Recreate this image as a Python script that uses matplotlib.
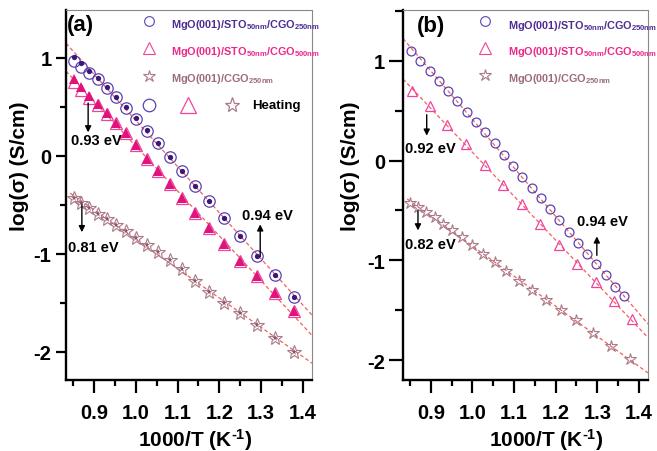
import numpy as np
import matplotlib
matplotlib.use('Agg')
import matplotlib.pyplot as plt
from matplotlib.ticker import MultipleLocator

plt.rcParams['font.family'] = ['Liberation Sans', 'DejaVu Sans']
plt.rcParams['font.weight'] = 'bold'
plt.rcParams['mathtext.fontset'] = 'custom'
plt.rcParams['mathtext.rm'] = 'Liberation Sans:bold'
plt.rcParams['mathtext.bf'] = 'Liberation Sans:bold'
plt.rcParams['mathtext.it'] = 'Liberation Sans:bold'
plt.rcParams['mathtext.default'] = 'rm'
plt.rcParams['axes.unicode_minus'] = False

# 1000/T (K^-1)
x_T = [0.851, 0.870, 0.889, 0.909, 0.930, 0.952, 0.976, 1.000, 1.026, 1.053,
       1.081, 1.111, 1.143, 1.176, 1.212, 1.250, 1.290, 1.333, 1.379]

# panel (a): log(sigma)
a_circ_cool = [1.01, 0.95, 0.87, 0.80, 0.70, 0.60, 0.50, 0.39, 0.26, 0.13,
               -0.01, -0.15, -0.31, -0.46, -0.64, -0.82, -1.02, -1.22, -1.44]
a_circ_heat = [0.97, 0.91, 0.85, 0.78, 0.69, 0.60, 0.49, 0.38, 0.25, 0.13,
               -0.01, -0.15, -0.31, -0.46, -0.64, -0.82, -1.02, -1.22, -1.44]
a_tri_cool = [0.78, 0.70, 0.61, 0.53, 0.44, 0.34, 0.23, 0.11, -0.03, -0.15,
              -0.29, -0.43, -0.58, -0.74, -0.90, -1.07, -1.23, -1.40, -1.58]
a_tri_heat = [0.75, 0.67, 0.59, 0.52, 0.43, 0.34, 0.23, 0.11, -0.03, -0.15,
              -0.29, -0.43, -0.58, -0.74, -0.90, -1.07, -1.23, -1.40, -1.58]
a_star = [-0.43, -0.48, -0.53, -0.59, -0.65, -0.71, -0.77, -0.84, -0.91, -0.98,
          -1.06, -1.16, -1.28, -1.39, -1.50, -1.61, -1.73, -1.86, -2.00]

# panel (b)
b_circ_x = [0.852, 0.874, 0.897, 0.919, 0.941, 0.964, 0.986, 1.008, 1.030, 1.053,
            1.075, 1.097, 1.120, 1.142, 1.164, 1.187, 1.209, 1.231, 1.253, 1.276,
            1.298, 1.320, 1.343, 1.365]
b_circ = [1.10, 1.00, 0.90, 0.80, 0.70, 0.60, 0.49, 0.39, 0.29, 0.18,
          0.06, -0.05, -0.16, -0.27, -0.38, -0.49, -0.60, -0.72, -0.83, -0.94,
          -1.04, -1.15, -1.27, -1.36]
b_tri_x = [0.854, 0.898, 0.938, 0.984, 1.030, 1.073, 1.119, 1.162, 1.208, 1.251,
           1.297, 1.340, 1.383]
b_tri = [0.70, 0.55, 0.36, 0.17, -0.04, -0.24, -0.44, -0.64, -0.85, -1.04,
         -1.22, -1.41, -1.59]
b_star = [-0.43, -0.47, -0.52, -0.57, -0.64, -0.70, -0.77, -0.85, -0.94, -1.02,
          -1.11, -1.21, -1.30, -1.40, -1.50, -1.60, -1.73, -1.86, -1.99]

labels = ['MgO(001)/STO$_{50nm}$/CGO$_{250nm}$',
          'MgO(001)/STO$_{50nm}$/CGO$_{500nm}$',
          'MgO(001)/CGO$_{250nm}$']

c_circ, c_dot = '#5b42b0', '#3a1878'
c_tri, c_trifill = '#f0449c', '#e0127c'
c_star, c_starfill = '#a87a8a', '#87586a'
c_txt = ['#4e2d92', '#ec2a8a', '#9c6c7c']
c_fit = '#f26060'

XLIM = (0.833, 1.422)


def fit_line(ax, x, y, start=None):
    p = np.polyfit(x, y, 1)
    x0 = XLIM[0] if start is None else start
    xx = np.array([x0, XLIM[1]])
    ax.plot(xx, np.polyval(p, xx), color=c_fit, lw=0.9, ls=(0, (3, 2)), zorder=1)


def style(ax, ylim, ylab_x, xlab_x, ylen):
    ax.set_xlim(*XLIM)
    ax.set_ylim(*ylim)
    ax.xaxis.set_major_locator(MultipleLocator(0.1))
    ax.xaxis.set_minor_locator(MultipleLocator(0.05))
    ax.yaxis.set_major_locator(MultipleLocator(1))
    ax.yaxis.set_minor_locator(MultipleLocator(0.5))
    ax.tick_params(axis='x', which='major', length=9.5, width=1.6, direction='out', labelsize=14.5, pad=7)
    ax.tick_params(axis='x', which='minor', length=4.5, width=1.6, direction='out')
    ax.tick_params(axis='y', which='major', length=ylen, width=1.6, direction='out', labelsize=14.5, pad=3)
    ax.tick_params(axis='y', which='minor', length=ylen * 0.55, width=1.6, direction='out')
    ax.tick_params(top=False, right=False, which='both')
    for s in ['left', 'bottom']:
        ax.spines[s].set_linewidth(1.7)
    for s in ['top', 'right']:
        ax.spines[s].set_linewidth(0.8)
        ax.spines[s].set_color('#888888')
    ax.set_ylabel('log(σ) (S/cm)', fontsize=15, fontweight='bold')
    ax.yaxis.set_label_coords(ylab_x, 0.58)
    ax.set_xlabel(r'1000/T (K$^{\text{-1}}$)', fontsize=15, fontweight='bold')
    ax.xaxis.set_label_coords(xlab_x, -0.125)


def legend_rows(ax, mx, tx, ys):
    mk = [('o', 7, c_circ), ('^', 8.5, c_tri), ('*', 9, c_star)]
    for (m, ms, c), lab, tc, (my, ty) in zip(mk, labels, c_txt, ys):
        ax.plot([mx], [my], m, ms=ms, mfc='none', mec=c, mew=0.8,
                transform=ax.transAxes, clip_on=False)
        ax.text(tx, ty, lab, color=tc, fontsize=7.8, fontweight='bold',
                transform=ax.transAxes, va='baseline')


def ev_label(ax, txt, tx, ty, ax0, ay0, ay1):
    ax.text(tx, ty, txt, fontsize=10.5, fontweight='bold', va='center')
    ax.annotate('', xy=(ax0, ay1), xytext=(ax0, ay0),
                arrowprops=dict(arrowstyle='-|>', color='k', lw=1.0, mutation_scale=9,
                                shrinkA=0, shrinkB=0))


fig = plt.figure(figsize=(6.57, 4.52), dpi=100)
ax1 = fig.add_axes([66 / 657, 71 / 452, 246 / 657, 370 / 452])
ax2 = fig.add_axes([403 / 657, 71 / 452, 245 / 657, 370 / 452])

# ---- (a)
fit_line(ax1, x_T, a_circ_cool)
fit_line(ax1, x_T, a_tri_cool)
fit_line(ax1, x_T, a_star, start=min(x_T) - 0.008)
ax1.plot(x_T, a_circ_heat, 'o', ms=8.2, mfc='none', mec=c_circ, mew=0.9, zorder=3)
ax1.plot(x_T, a_circ_cool, 'o', ms=3.8, mfc=c_dot, mec=c_dot, mew=0, zorder=4)
ax1.plot(x_T, a_tri_heat, '^', ms=9.2, mfc='none', mec=c_tri, mew=0.9, zorder=3)
ax1.plot(x_T, a_tri_cool, '^', ms=6.5, mfc=c_trifill, mec=c_trifill, mew=0, zorder=4)
ax1.plot(x_T, a_star, '*', ms=10, mfc='none', mec=c_star, mew=0.8, zorder=3)
ax1.plot(x_T, a_star, '*', ms=5, mfc=c_starfill, mec=c_starfill, mew=0, zorder=4)
style(ax1, (-2.29, 1.49), -0.15, 0.524, 7.5)
ax1.text(0.057, 0.962, '(a)', fontsize=16, fontweight='bold', transform=ax1.transAxes,
         ha='center', va='center')
legend_rows(ax1, 0.337, 0.427, [(0.970, 0.954), (0.897, 0.881), (0.822, 0.808)])
for xm, m, ms, c in [(0.337, 'o', 9, c_circ), (0.496, '^', 11, c_tri), (0.675, '*', 11, c_star)]:
    ax1.plot([xm], [0.743], m, ms=ms, mfc='none', mec=c, mew=0.9, transform=ax1.transAxes)
ax1.text(0.756, 0.743, 'Heating', fontsize=9.5, fontweight='bold', va='center',
         transform=ax1.transAxes)
ev_label(ax1, '0.93 eV', 0.845, 0.16, 0.886, 0.54, 0.24)
ev_label(ax1, '0.94 eV', 1.255, -0.605, 1.298, -1.03, -0.70)
ev_label(ax1, '0.81 eV', 0.838, -0.93, 0.871, -0.48, -0.78)

# ---- (b)
fit_line(ax2, b_circ_x, b_circ)
fit_line(ax2, b_tri_x, b_tri)
fit_line(ax2, x_T, b_star, start=min(x_T) - 0.008)
ax2.plot(b_circ_x, b_circ, 'o', ms=6.4, mfc='none', mec=c_circ, mew=0.9, zorder=3)
ax2.plot(b_tri_x, b_tri, '^', ms=7.5, mfc='none', mec=c_tri, mew=0.9, zorder=3)
ax2.plot(x_T, b_star, '*', ms=9, mfc='none', mec=c_star, mew=0.8, zorder=3)
style(ax2, (-2.2, 1.51), -0.176, 0.584, 10)
ax2.text(0.115, 0.959, '(b)', fontsize=16, fontweight='bold', transform=ax2.transAxes,
         ha='center', va='center')
legend_rows(ax2, 0.335, 0.429, [(0.970, 0.951), (0.897, 0.881), (0.824, 0.808)])
ev_label(ax2, '0.92 eV', 0.8375, 0.125, 0.890, 0.46, 0.25)
ev_label(ax2, '0.94 eV', 1.251, -0.61, 1.299, -0.95, -0.76)
ev_label(ax2, '0.82 eV', 0.8375, -0.84, 0.869, -0.50, -0.70)

fig.savefig('out.png', dpi=100)
